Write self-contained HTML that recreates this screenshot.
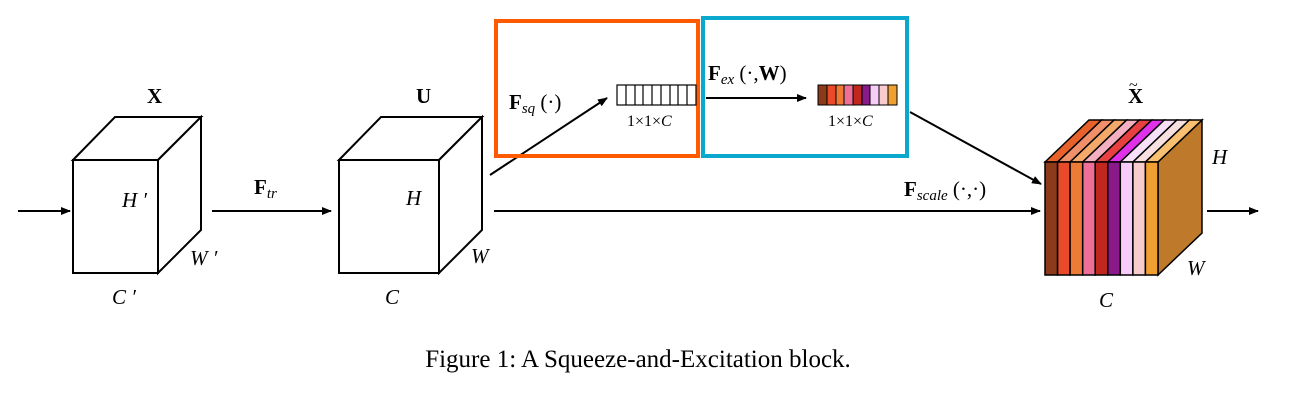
<!DOCTYPE html>
<html><head><meta charset="utf-8"><style>
html,body{margin:0;padding:0;background:#fff;}
svg{display:block;}
text{font-family:"Liberation Serif",serif;fill:#000;}
</style></head><body>
<svg width="1301" height="403" viewBox="0 0 1301 403" xmlns="http://www.w3.org/2000/svg">
<defs><marker id="a" markerWidth="10" markerHeight="8" refX="9" refY="4" orient="auto" markerUnits="userSpaceOnUse"><path d="M0,0 L10,4 L0,8 z" fill="#000"/></marker></defs>
<g stroke="#000" stroke-width="2" fill="#fff">
<!-- cube X -->
<path d="M73,160 L115,117 L201,117 L158,160 Z"/>
<path d="M158,160 L201,117 L201,230 L158,273 Z"/>
<rect x="73" y="160" width="85" height="113"/>
<!-- cube U -->
<path d="M339,160 L381,117 L482,117 L439,160 Z"/>
<path d="M439,160 L482,117 L482,230 L439,273 Z"/>
<rect x="339" y="160" width="100" height="113"/>
</g>
<g stroke="#000" stroke-width="2" fill="none">
<line x1="18" y1="211" x2="70" y2="211" marker-end="url(#a)"/>
<line x1="212" y1="211" x2="331" y2="211" marker-end="url(#a)"/>
<line x1="490" y1="175" x2="607" y2="98" marker-end="url(#a)"/>
<line x1="494" y1="211" x2="1040" y2="211" marker-end="url(#a)"/>
<line x1="706" y1="98" x2="806" y2="98" marker-end="url(#a)"/>
<line x1="910" y1="112" x2="1041" y2="184" marker-end="url(#a)"/>
<line x1="1207" y1="211" x2="1258" y2="211" marker-end="url(#a)"/>
</g>
<rect x="496" y="21" width="202" height="135" fill="none" stroke="#FF5A00" stroke-width="4"/>
<rect x="703" y="18" width="204" height="138" fill="none" stroke="#0AA8CC" stroke-width="4"/>
<!-- white vector -->
<g stroke="#000" stroke-width="1.2" fill="#fff">
<rect x="617" y="85" width="79" height="20"/>
<path d="M626,85V105M635,85V105M643,85V105M652,85V105M661,85V105M670,85V105M678,85V105M687,85V105"/>
</g>
<!-- colored vector -->
<g stroke="#000" stroke-width="1">
<rect x="818" y="85" width="9" height="20" fill="#8B3A1A"/>
<rect x="827" y="85" width="9" height="20" fill="#E84A2A"/>
<rect x="836" y="85" width="8" height="20" fill="#EE7B35"/>
<rect x="844" y="85" width="9" height="20" fill="#EE7099"/>
<rect x="853" y="85" width="9" height="20" fill="#C0281F"/>
<rect x="862" y="85" width="8" height="20" fill="#8A1A8A"/>
<rect x="870" y="85" width="9" height="20" fill="#F8CCF8"/>
<rect x="879" y="85" width="9" height="20" fill="#F8CCCC"/>
<rect x="888" y="85" width="9" height="20" fill="#F0A030"/>
</g>
<!-- final cube -->
<g stroke="#000" stroke-width="1.5">
<path d="M1158,162 L1202,120 L1202,233 L1158,275 Z" fill="#BE7A2A"/>
<path d="M1045,162 L1089,120 L1101.6,120 L1057.6,162Z" fill="#E8602A"/>
<path d="M1057.6,162 L1101.6,120 L1114.1,120 L1070.1,162Z" fill="#F0906A"/>
<path d="M1070.1,162 L1114.1,120 L1126.7,120 L1082.7,162Z" fill="#F4A86A"/>
<path d="M1082.7,162 L1126.7,120 L1139.2,120 L1095.2,162Z" fill="#F4B0C0"/>
<path d="M1095.2,162 L1139.2,120 L1151.8,120 L1107.8,162Z" fill="#E84040"/>
<path d="M1107.8,162 L1151.8,120 L1164.3,120 L1120.3,162Z" fill="#E030E8"/>
<path d="M1120.3,162 L1164.3,120 L1176.9,120 L1132.9,162Z" fill="#F8E0F8"/>
<path d="M1132.9,162 L1176.9,120 L1189.4,120 L1145.4,162Z" fill="#F8E0E0"/>
<path d="M1145.4,162 L1189.4,120 L1202,120 L1158,162Z" fill="#F8C070"/>
<rect x="1045" y="162" width="12.6" height="113" fill="#8B3A1A"/>
<rect x="1057.6" y="162" width="12.5" height="113" fill="#E84A2A"/>
<rect x="1070.1" y="162" width="12.6" height="113" fill="#EE7B35"/>
<rect x="1082.7" y="162" width="12.5" height="113" fill="#EE7099"/>
<rect x="1095.2" y="162" width="12.6" height="113" fill="#C0281F"/>
<rect x="1107.8" y="162" width="12.5" height="113" fill="#8A1A8A"/>
<rect x="1120.3" y="162" width="12.6" height="113" fill="#F8CCF8"/>
<rect x="1132.9" y="162" width="12.5" height="113" fill="#F8CCCC"/>
<rect x="1145.4" y="162" width="12.6" height="113" fill="#F0A030"/>
</g>
<!-- labels -->
<g font-size="21">
<text x="147" y="103" font-weight="bold">X</text>
<text x="122" y="207" font-style="italic">H ′</text>
<text x="190" y="265" font-style="italic">W ′</text>
<text x="112" y="304" font-style="italic">C ′</text>
<text x="254" y="194"><tspan font-weight="bold">F</tspan><tspan font-style="italic" font-size="15" dy="4">tr</tspan></text>
<text x="416" y="103" font-weight="bold">U</text>
<text x="406" y="205" font-style="italic">H</text>
<text x="471" y="263" font-style="italic">W</text>
<text x="385" y="304" font-style="italic">C</text>
<text x="509" y="109"><tspan font-weight="bold">F</tspan><tspan font-style="italic" font-size="15" dy="4">sq</tspan><tspan dy="-4"> (·)</tspan></text>
<text x="708" y="80"><tspan font-weight="bold">F</tspan><tspan font-style="italic" font-size="15" dy="4">ex</tspan><tspan dy="-4"> (·,</tspan><tspan font-weight="bold">W</tspan>)</text>
<text x="904" y="196"><tspan font-weight="bold">F</tspan><tspan font-style="italic" font-size="15" dy="4">scale</tspan><tspan dy="-4"> (·,·)</tspan></text>
<text x="1128" y="103" font-weight="bold">X</text>
<text x="1129" y="90" font-size="16">~</text>
<text x="1212" y="164" font-style="italic">H</text>
<text x="1187" y="275" font-style="italic">W</text>
<text x="1099" y="307" font-style="italic">C</text>
</g>
<g font-size="16">
<text x="627" y="126">1×1×<tspan font-style="italic">C</tspan></text>
<text x="828" y="126">1×1×<tspan font-style="italic">C</tspan></text>
</g>
<text x="638" y="367" font-size="25" text-anchor="middle">Figure 1: A Squeeze-and-Excitation block.</text>
</svg>
</body></html>
